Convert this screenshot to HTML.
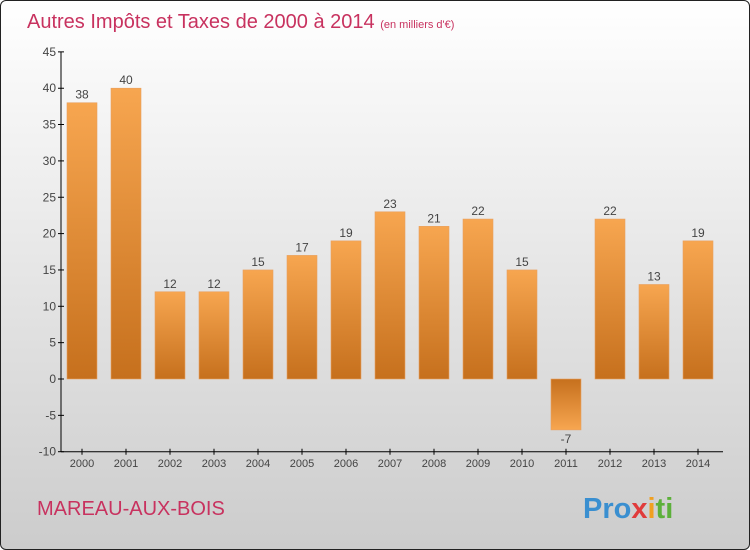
<!DOCTYPE html>
<html><head><meta charset="utf-8"><style>
body{margin:0}
#c{position:relative;width:748px;height:548px;border:1px solid #222;border-radius:6px;background:linear-gradient(#ffffff,#cccccc);overflow:hidden;font-family:"Liberation Sans",sans-serif}
</style></head><body>
<div id="c">
<svg id="s" width="748" height="548">
<defs>
<linearGradient id="gp" x1="0" y1="0" x2="0" y2="1"><stop offset="0" stop-color="#f7a650"/><stop offset="1" stop-color="#c6701d"/></linearGradient>
<linearGradient id="gn" x1="0" y1="0" x2="0" y2="1"><stop offset="0" stop-color="#c6701d"/><stop offset="1" stop-color="#f7a650"/></linearGradient>
</defs>
<text x="26" y="27" font-size="20" fill="#c8325f">Autres Impôts et Taxes de 2000 à 2014 <tspan font-size="11">(en milliers d'€)</tspan></text>
<text x="36" y="514" font-size="20" fill="#c8325f">MAREAU-AUX-BOIS</text>
<text x="582" y="517" font-size="29" font-weight="bold" fill="#3a8fd0">Pro<tspan fill="#e03b3b">x</tspan><tspan fill="#f0a020">i</tspan><tspan fill="#5cb03a">ti</tspan></text>
<g id="g"></g>
</svg>
</div>
<script>
const years=["2000","2001","2002","2003","2004","2005","2006","2007","2008","2009","2010","2011","2012","2013","2014"];
const values=[38,40,12,12,15,17,19,23,21,22,15,-7,22,13,19];
const yTicks=[-10,-5,0,5,10,15,20,25,30,35,40,45];
const NS="http://www.w3.org/2000/svg";
const g=document.getElementById('g');
const y=v=>378-v*7.27;
const x=i=>81+i*44;
function mk(t,a){const e=document.createElementNS(NS,t);for(const k in a)e.setAttribute(k,a[k]);g.appendChild(e);return e;}
let ax=mk('line',{x1:60,y1:y(45),x2:60,y2:y(-10),stroke:'#000','stroke-width':1});


let bx=mk('line',{x1:60,y1:y(-10),x2:722,y2:y(-10),stroke:'#000','stroke-width':1});


yTicks.forEach(v=>{
 let t=mk('line',{x1:57,x2:63,y1:y(v),y2:y(v),stroke:'#000'});
 
 
 let l=mk('text',{x:55,y:y(v)+4,'text-anchor':'end','font-size':12,fill:'#444'});
 l.textContent=v;
 
 
});
years.forEach((yr,i)=>{
 const v=values[i];
 let t=mk('line',{x1:x(i),x2:x(i),y1:y(-10)-3,y2:y(-10)+3,stroke:'#000'});
 
 
 let l=mk('text',{x:x(i),y:466,'text-anchor':'middle','font-size':11,fill:'#444'});
 l.textContent=yr;
 
 
 const top=Math.min(y(v),y(0)),h=Math.abs(y(v)-y(0));
 let b=mk('rect',{x:x(i)-15,y:top,width:30,height:h,fill:v>=0?'url(#gp)':'url(#gn)',stroke:'#e8a060','stroke-width':0.6});
 
 
 let vl=mk('text',{x:x(i),y:v>=0?y(v)-4:y(v)+13,'text-anchor':'middle','font-size':12,fill:'#444'});
 vl.textContent=v;
 
 
});
</script>
</body></html>
